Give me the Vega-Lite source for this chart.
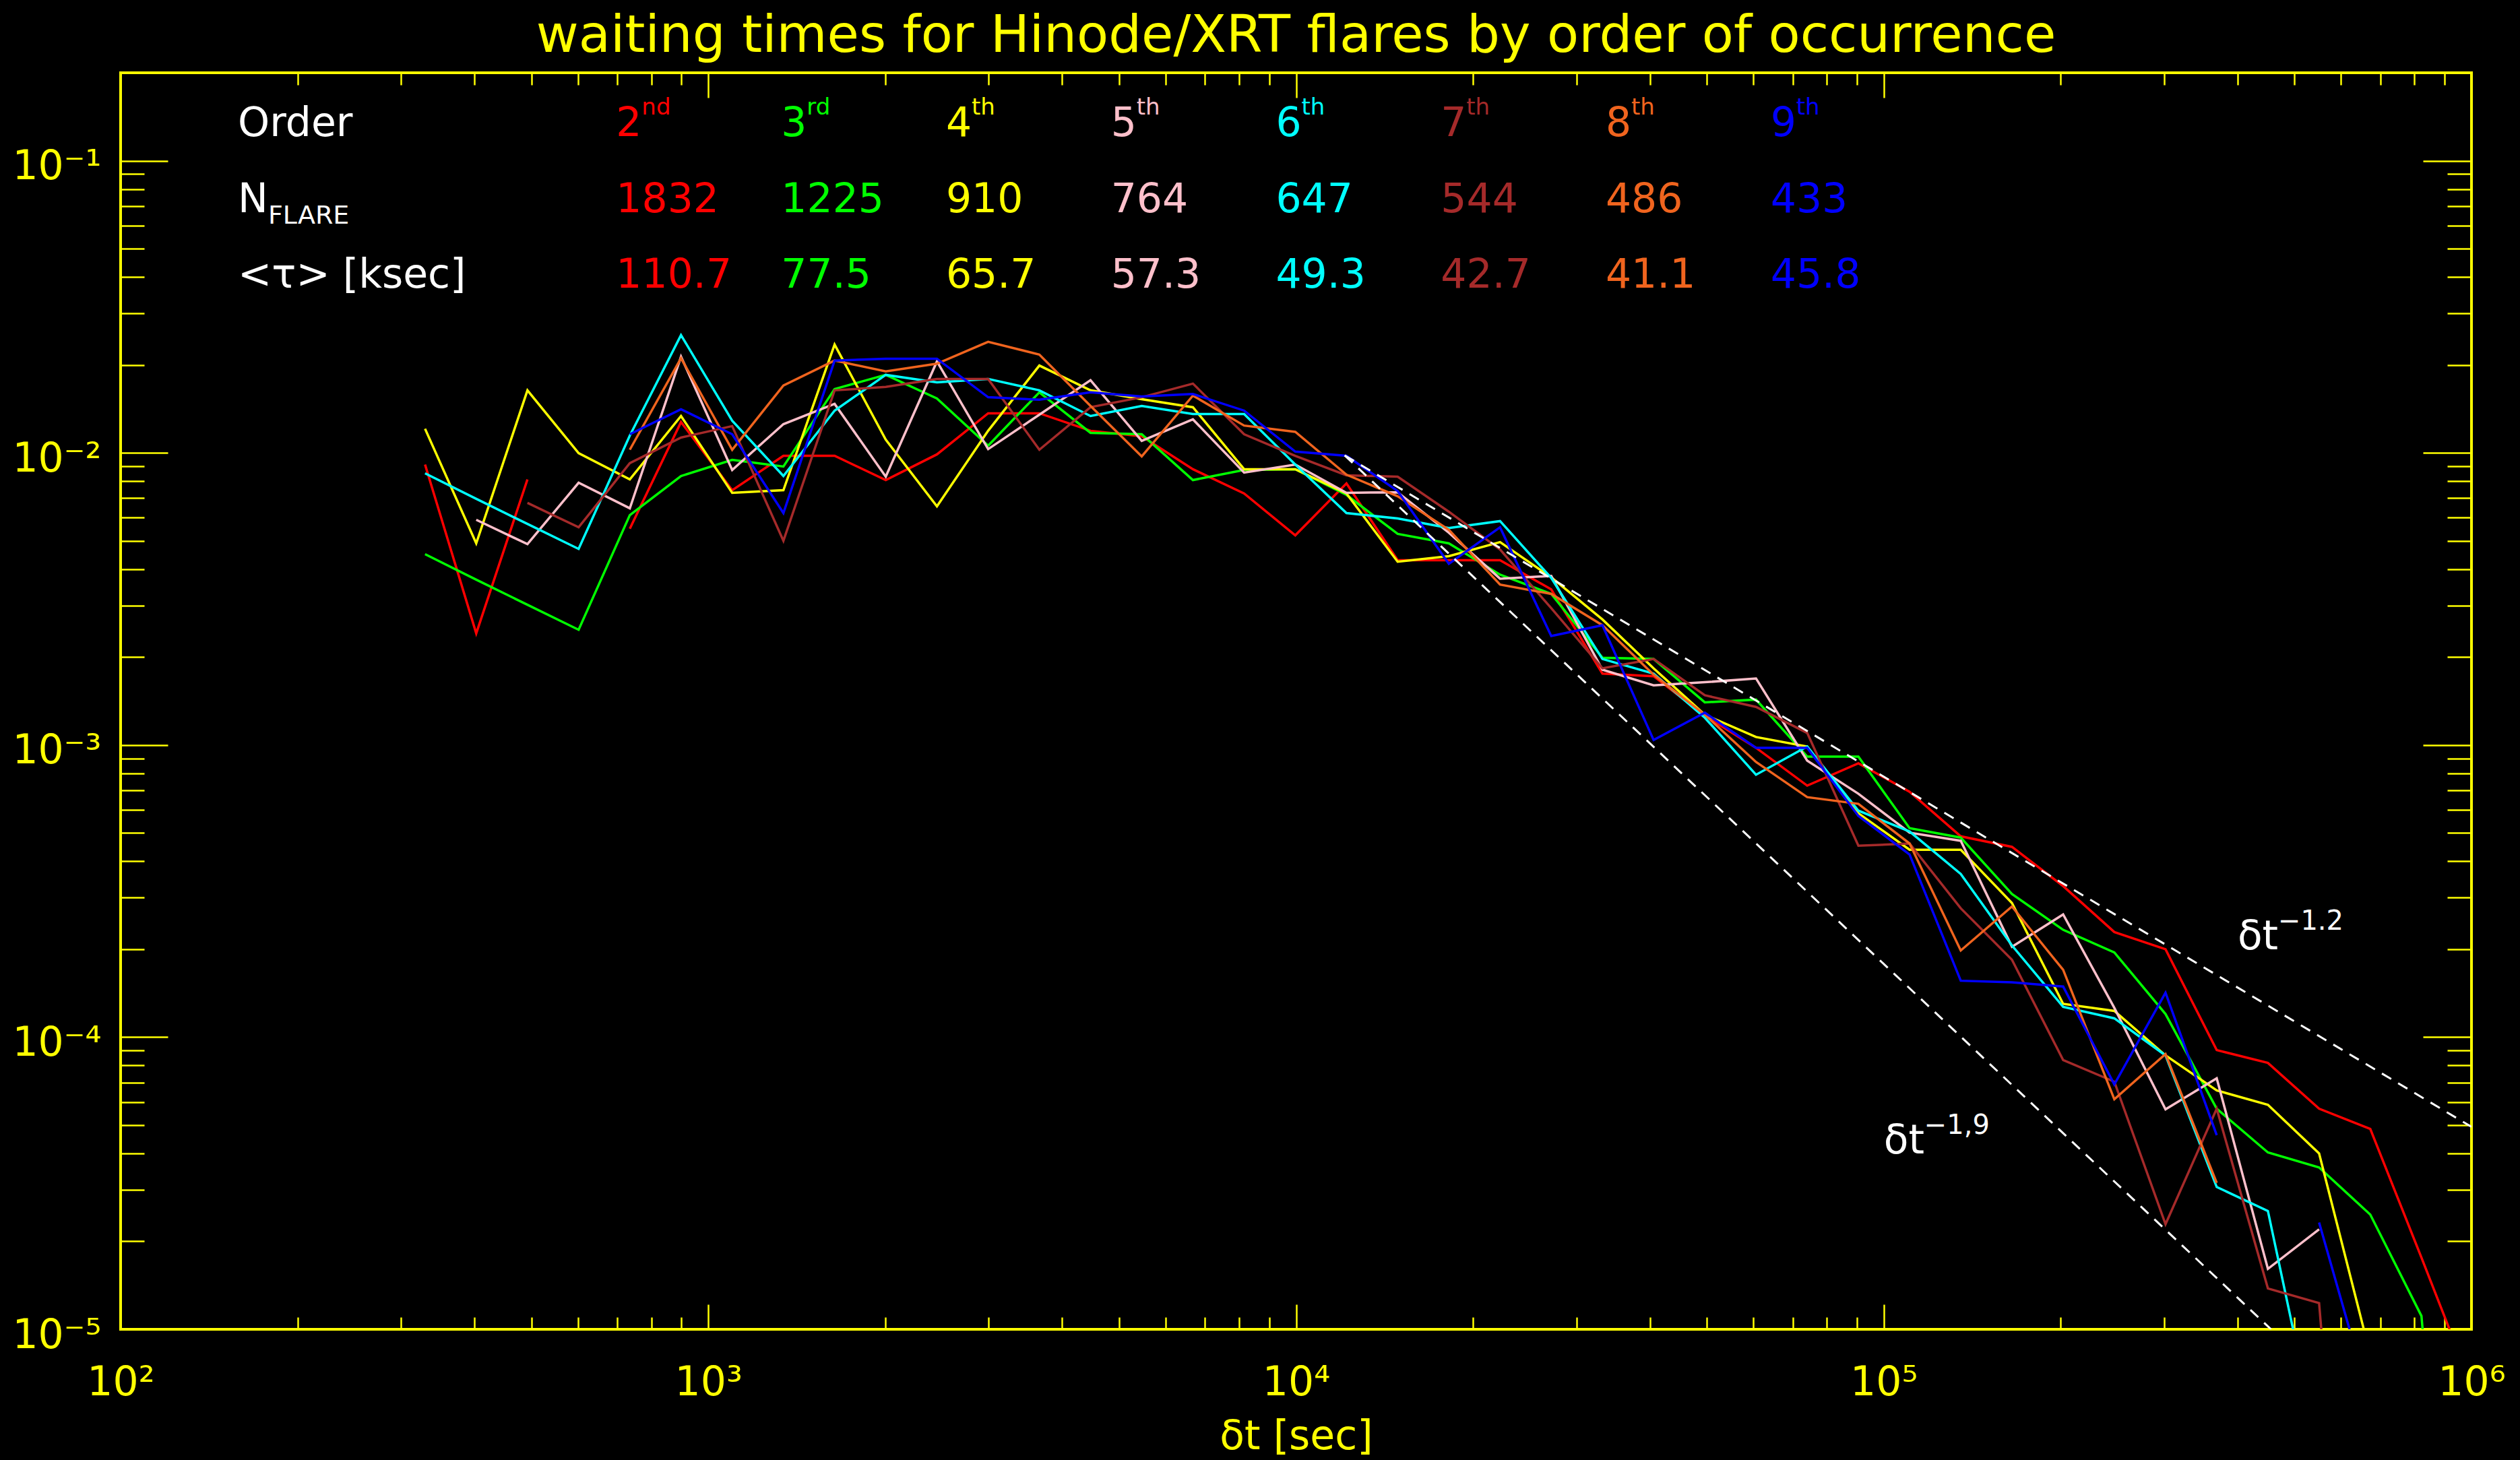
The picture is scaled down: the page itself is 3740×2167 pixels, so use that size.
{
  "$schema": "https://vega.github.io/schema/vega-lite/v6.json",
  "width": 3489,
  "height": 1865,
  "autosize": {"type": "none"},
  "padding": {"left": 179, "top": 108, "right": 72, "bottom": 194},
  "background": "#000000",
  "config": {
    "view": {"stroke": "#FFFF00", "strokeWidth": 4},
    "font": "DejaVu Sans",
    "axis": {"domain": false, "grid": false, "tickColor": "#FFFF00", "tickWidth": 2.5, "labelColor": "#FFFF00", "labelFont": "DejaVu Sans", "labelFontSize": 60, "titleColor": "#FFFF00", "titleFont": "DejaVu Sans", "titleFontSize": 60, "titleFontWeight": "normal", "labelFlush": false, "labelOverlap": false}
  },
  "title": {"text": "waiting times for Hinode/XRT flares by order of occurrence", "color": "#FFFF00", "font": "DejaVu Sans", "fontSize": 77, "fontWeight": "normal", "anchor": "middle", "frame": "group", "baseline": "alphabetic", "offset": -47},
  "datasets": {
    "curves": [
      {"order":"2nd","dt":329.6,"freq":0.00912},{"order":"2nd","dt":402.8,"freq":0.00241},{"order":"2nd","dt":492.3,"freq":0.00811},{"order":"2nd","dt":601.6,"freq":null},{"order":"2nd","dt":735.2,"freq":0.0055},{"order":"2nd","dt":898.5,"freq":0.01275},{"order":"2nd","dt":1098,"freq":0.00745},{"order":"2nd","dt":1342,"freq":0.00977},{"order":"2nd","dt":1640,"freq":0.00977},{"order":"2nd","dt":2004,"freq":0.00807},{"order":"2nd","dt":2449,"freq":0.00988},{"order":"2nd","dt":2993,"freq":0.01366},{"order":"2nd","dt":3658,"freq":0.01366},{"order":"2nd","dt":4470,"freq":0.0119},{"order":"2nd","dt":5463,"freq":0.0114},{"order":"2nd","dt":6676,"freq":0.00879},{"order":"2nd","dt":8159,"freq":0.00726},{"order":"2nd","dt":9970,"freq":0.00522},{"order":"2nd","dt":12184,"freq":0.00786},{"order":"2nd","dt":14890,"freq":0.00429},{"order":"2nd","dt":18197,"freq":0.00429},{"order":"2nd","dt":22239,"freq":0.00429},{"order":"2nd","dt":27178,"freq":0.00341},{"order":"2nd","dt":33213,"freq":0.001755},{"order":"2nd","dt":40589,"freq":0.00172},{"order":"2nd","dt":49603,"freq":0.00126},{"order":"2nd","dt":60620,"freq":0.000978},{"order":"2nd","dt":74082,"freq":0.000726},{"order":"2nd","dt":90536,"freq":0.000866},{"order":"2nd","dt":110642,"freq":0.000692},{"order":"2nd","dt":135207,"freq":0.000487},{"order":"2nd","dt":165234,"freq":0.000448},{"order":"2nd","dt":201931,"freq":0.000329},{"order":"2nd","dt":246774,"freq":0.000229},{"order":"2nd","dt":301579,"freq":0.0002},{"order":"2nd","dt":368556,"freq":0.0000903},{"order":"2nd","dt":450406,"freq":0.0000816},{"order":"2nd","dt":550430,"freq":0.0000569},{"order":"2nd","dt":672670,"freq":0.0000485},{"order":"2nd","dt":822050,"freq":0.0000176},{"order":"2nd","dt":1004600,"freq":0.00000627},
      {"order":"3rd","dt":329.6,"freq":0.0045},{"order":"3rd","dt":402.8,"freq":0.00368},{"order":"3rd","dt":492.3,"freq":0.00302},{"order":"3rd","dt":601.6,"freq":0.00248},{"order":"3rd","dt":735.2,"freq":0.00612},{"order":"3rd","dt":898.5,"freq":0.00833},{"order":"3rd","dt":1098,"freq":0.00946},{"order":"3rd","dt":1342,"freq":0.00898},{"order":"3rd","dt":1640,"freq":0.01654},{"order":"3rd","dt":2004,"freq":0.01849},{"order":"3rd","dt":2449,"freq":0.01535},{"order":"3rd","dt":2993,"freq":0.01058},{"order":"3rd","dt":3658,"freq":0.01611},{"order":"3rd","dt":4470,"freq":0.01171},{"order":"3rd","dt":5463,"freq":0.01158},{"order":"3rd","dt":6676,"freq":0.00807},{"order":"3rd","dt":8159,"freq":0.00874},{"order":"3rd","dt":9970,"freq":0.00879},{"order":"3rd","dt":12184,"freq":0.00718},{"order":"3rd","dt":14890,"freq":0.00528},{"order":"3rd","dt":18197,"freq":0.0049},{"order":"3rd","dt":22239,"freq":0.00383},{"order":"3rd","dt":27178,"freq":0.00329},{"order":"3rd","dt":33213,"freq":0.00199},{"order":"3rd","dt":40589,"freq":0.00197},{"order":"3rd","dt":49603,"freq":0.0014},{"order":"3rd","dt":60620,"freq":0.00143},{"order":"3rd","dt":74082,"freq":0.000913},{"order":"3rd","dt":90536,"freq":0.000913},{"order":"3rd","dt":110642,"freq":0.000519},{"order":"3rd","dt":135207,"freq":0.000482},{"order":"3rd","dt":165234,"freq":0.000309},{"order":"3rd","dt":201931,"freq":0.000233},{"order":"3rd","dt":246774,"freq":0.000195},{"order":"3rd","dt":301579,"freq":0.00012},{"order":"3rd","dt":368556,"freq":0.0000569},{"order":"3rd","dt":450406,"freq":0.0000403},{"order":"3rd","dt":550430,"freq":0.0000358},{"order":"3rd","dt":672670,"freq":0.0000247},{"order":"3rd","dt":822050,"freq":0.0000111},{"order":"3rd","dt":1004600,"freq":0.0000001},
      {"order":"4th","dt":329.6,"freq":0.01209},{"order":"4th","dt":402.8,"freq":0.0049},{"order":"4th","dt":492.3,"freq":0.01637},{"order":"4th","dt":601.6,"freq":0.00998},{"order":"4th","dt":735.2,"freq":0.00811},{"order":"4th","dt":898.5,"freq":0.01337},{"order":"4th","dt":1098,"freq":0.0073},{"order":"4th","dt":1342,"freq":0.00745},{"order":"4th","dt":1640,"freq":0.02349},{"order":"4th","dt":2004,"freq":0.0111},{"order":"4th","dt":2449,"freq":0.00656},{"order":"4th","dt":2993,"freq":0.0119},{"order":"4th","dt":3658,"freq":0.0199},{"order":"4th","dt":4470,"freq":0.01637},{"order":"4th","dt":5463,"freq":0.01527},{"order":"4th","dt":6676,"freq":0.01433},{"order":"4th","dt":8159,"freq":0.00879},{"order":"4th","dt":9970,"freq":0.00879},{"order":"4th","dt":12184,"freq":0.00726},{"order":"4th","dt":14890,"freq":0.00424},{"order":"4th","dt":18197,"freq":0.00443},{"order":"4th","dt":22239,"freq":0.00495},{"order":"4th","dt":27178,"freq":0.00375},{"order":"4th","dt":33213,"freq":0.00269},{"order":"4th","dt":40589,"freq":0.00183},{"order":"4th","dt":49603,"freq":0.00127},{"order":"4th","dt":60620,"freq":0.001065},{"order":"4th","dt":74082,"freq":0.000988},{"order":"4th","dt":90536,"freq":0.000584},{"order":"4th","dt":110642,"freq":0.000438},{"order":"4th","dt":135207,"freq":0.000438},{"order":"4th","dt":165234,"freq":0.000288},{"order":"4th","dt":201931,"freq":0.00013},{"order":"4th","dt":246774,"freq":0.000123},{"order":"4th","dt":301579,"freq":0.0000866},{"order":"4th","dt":368556,"freq":0.0000657},{"order":"4th","dt":450406,"freq":0.0000587},{"order":"4th","dt":550430,"freq":0.00004},{"order":"4th","dt":672670,"freq":0.00000818},
      {"order":"5th","dt":402.8,"freq":0.0059},{"order":"5th","dt":492.3,"freq":0.00487},{"order":"5th","dt":601.6,"freq":0.0079},{"order":"5th","dt":735.2,"freq":0.00646},{"order":"5th","dt":898.5,"freq":0.02135},{"order":"5th","dt":1098,"freq":0.00874},{"order":"5th","dt":1342,"freq":0.01254},{"order":"5th","dt":1640,"freq":0.01471},{"order":"5th","dt":2004,"freq":0.00829},{"order":"5th","dt":2449,"freq":0.02056},{"order":"5th","dt":2993,"freq":0.0103},{"order":"5th","dt":3658,"freq":0.01351},{"order":"5th","dt":4470,"freq":0.01772},{"order":"5th","dt":5463,"freq":0.01099},{"order":"5th","dt":6676,"freq":0.01302},{"order":"5th","dt":8159,"freq":0.00856},{"order":"5th","dt":9970,"freq":0.00912},{"order":"5th","dt":12184,"freq":0.0073},{"order":"5th","dt":14890,"freq":0.00733},{"order":"5th","dt":18197,"freq":0.00533},{"order":"5th","dt":22239,"freq":0.00371},{"order":"5th","dt":27178,"freq":0.00379},{"order":"5th","dt":33213,"freq":0.00181},{"order":"5th","dt":40589,"freq":0.0016},{"order":"5th","dt":49603,"freq":0.00164},{"order":"5th","dt":60620,"freq":0.00169},{"order":"5th","dt":74082,"freq":0.000884},{"order":"5th","dt":90536,"freq":0.000681},{"order":"5th","dt":110642,"freq":0.000501},{"order":"5th","dt":135207,"freq":0.00047},{"order":"5th","dt":165234,"freq":0.000204},{"order":"5th","dt":201931,"freq":0.000263},{"order":"5th","dt":246774,"freq":0.000126},{"order":"5th","dt":301579,"freq":0.0000566},{"order":"5th","dt":368556,"freq":0.0000723},{"order":"5th","dt":450406,"freq":0.0000161},{"order":"5th","dt":550430,"freq":0.000022},
      {"order":"6th","dt":329.6,"freq":0.00851},{"order":"6th","dt":402.8,"freq":0.00696},{"order":"6th","dt":492.3,"freq":0.00571},{"order":"6th","dt":601.6,"freq":0.00469},{"order":"6th","dt":735.2,"freq":0.01146},{"order":"6th","dt":898.5,"freq":0.0253},{"order":"6th","dt":1098,"freq":0.01288},{"order":"6th","dt":1342,"freq":0.00833},{"order":"6th","dt":1640,"freq":0.01395},{"order":"6th","dt":2004,"freq":0.01849},{"order":"6th","dt":2449,"freq":0.01744},{"order":"6th","dt":2993,"freq":0.01791},{"order":"6th","dt":3658,"freq":0.01637},{"order":"6th","dt":4470,"freq":0.01337},{"order":"6th","dt":5463,"freq":0.01448},{"order":"6th","dt":6676,"freq":0.01359},{"order":"6th","dt":8159,"freq":0.01359},{"order":"6th","dt":9970,"freq":0.00912},{"order":"6th","dt":12184,"freq":0.00622},{"order":"6th","dt":14890,"freq":0.00596},{"order":"6th","dt":18197,"freq":0.00553},{"order":"6th","dt":22239,"freq":0.00584},{"order":"6th","dt":27178,"freq":0.00373},{"order":"6th","dt":33213,"freq":0.00197},{"order":"6th","dt":40589,"freq":0.001755},{"order":"6th","dt":49603,"freq":0.00124},{"order":"6th","dt":60620,"freq":0.000791},{"order":"6th","dt":74082,"freq":0.000988},{"order":"6th","dt":90536,"freq":0.000596},{"order":"6th","dt":110642,"freq":0.000506},{"order":"6th","dt":135207,"freq":0.000362},{"order":"6th","dt":165234,"freq":0.000206},{"order":"6th","dt":201931,"freq":0.000127},{"order":"6th","dt":246774,"freq":0.000116},{"order":"6th","dt":301579,"freq":0.0000866},{"order":"6th","dt":368556,"freq":0.0000307},{"order":"6th","dt":450406,"freq":0.0000254},{"order":"6th","dt":550430,"freq":0.00000382},
      {"order":"7th","dt":492.3,"freq":0.00674},{"order":"7th","dt":601.6,"freq":0.00556},{"order":"7th","dt":735.2,"freq":0.00922},{"order":"7th","dt":898.5,"freq":0.01128},{"order":"7th","dt":1098,"freq":0.01235},{"order":"7th","dt":1342,"freq":0.005},{"order":"7th","dt":1640,"freq":0.01637},{"order":"7th","dt":2004,"freq":0.01681},{"order":"7th","dt":2449,"freq":0.01791},{"order":"7th","dt":2993,"freq":0.01791},{"order":"7th","dt":3658,"freq":0.01025},{"order":"7th","dt":4470,"freq":0.01433},{"order":"7th","dt":5463,"freq":0.0155},{"order":"7th","dt":6676,"freq":0.01726},{"order":"7th","dt":8159,"freq":0.01158},{"order":"7th","dt":9970,"freq":0.00977},{"order":"7th","dt":12184,"freq":0.00838},{"order":"7th","dt":14890,"freq":0.00829},{"order":"7th","dt":18197,"freq":0.00629},{"order":"7th","dt":22239,"freq":0.00467},{"order":"7th","dt":27178,"freq":0.00294},{"order":"7th","dt":33213,"freq":0.00183},{"order":"7th","dt":40589,"freq":0.00197},{"order":"7th","dt":49603,"freq":0.00148},{"order":"7th","dt":60620,"freq":0.00135},{"order":"7th","dt":74082,"freq":0.0011},{"order":"7th","dt":90536,"freq":0.000452},{"order":"7th","dt":110642,"freq":0.00046},{"order":"7th","dt":135207,"freq":0.000276},{"order":"7th","dt":165234,"freq":0.000184},{"order":"7th","dt":201931,"freq":0.0000835},{"order":"7th","dt":246774,"freq":0.0000704},{"order":"7th","dt":301579,"freq":0.0000229},{"order":"7th","dt":368556,"freq":0.0000569},{"order":"7th","dt":450406,"freq":0.0000138},{"order":"7th","dt":550430,"freq":0.0000123},{"order":"7th","dt":672670,"freq":0.0000001},
      {"order":"8th","dt":735.2,"freq":0.01025},{"order":"8th","dt":898.5,"freq":0.0211},{"order":"8th","dt":1098,"freq":0.01025},{"order":"8th","dt":1342,"freq":0.017},{"order":"8th","dt":1640,"freq":0.0207},{"order":"8th","dt":2004,"freq":0.019},{"order":"8th","dt":2449,"freq":0.0202},{"order":"8th","dt":2993,"freq":0.024},{"order":"8th","dt":3658,"freq":0.0217},{"order":"8th","dt":4470,"freq":0.01448},{"order":"8th","dt":5463,"freq":0.00972},{"order":"8th","dt":6676,"freq":0.0157},{"order":"8th","dt":8159,"freq":0.0124},{"order":"8th","dt":9970,"freq":0.0118},{"order":"8th","dt":12184,"freq":0.00842},{"order":"8th","dt":14890,"freq":0.0071},{"order":"8th","dt":18197,"freq":0.00545},{"order":"8th","dt":22239,"freq":0.00354},{"order":"8th","dt":27178,"freq":0.00329},{"order":"8th","dt":33213,"freq":0.00257},{"order":"8th","dt":40589,"freq":0.00174},{"order":"8th","dt":49603,"freq":0.00127},{"order":"8th","dt":60620,"freq":0.000875},{"order":"8th","dt":74082,"freq":0.000663},{"order":"8th","dt":90536,"freq":0.000629},{"order":"8th","dt":110642,"freq":0.00046},{"order":"8th","dt":135207,"freq":0.000198},{"order":"8th","dt":165234,"freq":0.00028},{"order":"8th","dt":201931,"freq":0.00017},{"order":"8th","dt":246774,"freq":0.0000613},{"order":"8th","dt":301579,"freq":0.0000875},{"order":"8th","dt":368556,"freq":0.0000317},
      {"order":"9th","dt":735.2,"freq":0.01158},{"order":"9th","dt":898.5,"freq":0.0141},{"order":"9th","dt":1098,"freq":0.01158},{"order":"9th","dt":1342,"freq":0.00622},{"order":"9th","dt":1640,"freq":0.0207},{"order":"9th","dt":2004,"freq":0.021},{"order":"9th","dt":2449,"freq":0.021},{"order":"9th","dt":2993,"freq":0.0155},{"order":"9th","dt":3658,"freq":0.0152},{"order":"9th","dt":4470,"freq":0.01611},{"order":"9th","dt":5463,"freq":0.0156},{"order":"9th","dt":6676,"freq":0.0159},{"order":"9th","dt":8159,"freq":0.01395},{"order":"9th","dt":9970,"freq":0.0101},{"order":"9th","dt":12184,"freq":0.00977},{"order":"9th","dt":14890,"freq":0.0074},{"order":"9th","dt":18197,"freq":0.00417},{"order":"9th","dt":22239,"freq":0.00556},{"order":"9th","dt":27178,"freq":0.00236},{"order":"9th","dt":33213,"freq":0.00257},{"order":"9th","dt":40589,"freq":0.00104},{"order":"9th","dt":49603,"freq":0.00129},{"order":"9th","dt":60620,"freq":0.000978},{"order":"9th","dt":74082,"freq":0.000978},{"order":"9th","dt":90536,"freq":0.000572},{"order":"9th","dt":110642,"freq":0.000422},{"order":"9th","dt":135207,"freq":0.000156},{"order":"9th","dt":165234,"freq":0.000154},{"order":"9th","dt":201931,"freq":0.000149},{"order":"9th","dt":246774,"freq":0.0000689},{"order":"9th","dt":301579,"freq":0.000142},{"order":"9th","dt":368556,"freq":0.0000462},{"order":"9th","dt":450406,"freq":null},{"order":"9th","dt":550430,"freq":0.0000232},{"order":"9th","dt":672670,"freq":0.00000564}
    ],
    "powerlaws": [
      {"law":"-1.2","dt":12100,"freq":0.0098},{"law":"-1.2","dt":1000000,"freq":0.0000493},
      {"law":"-1.9","dt":12100,"freq":0.0098},{"law":"-1.9","dt":456000,"freq":0.00001}
    ],
    "table": [
      {"order":"2nd","num":"2","sup":"nd","nflare":"1832","tau":110.7,"dt":696.7},
      {"order":"3rd","num":"3","sup":"rd","nflare":"1225","tau":77.5,"dt":1330},
      {"order":"4th","num":"4","sup":"th","nflare":"910","tau":65.7,"dt":2537},
      {"order":"5th","num":"5","sup":"th","nflare":"764","tau":57.3,"dt":4841},
      {"order":"6th","num":"6","sup":"th","nflare":"647","tau":49.3,"dt":9236},
      {"order":"7th","num":"7","sup":"th","nflare":"544","tau":42.7,"dt":17630},
      {"order":"8th","num":"8","sup":"th","nflare":"486","tau":41.1,"dt":33630},
      {"order":"9th","num":"9","sup":"th","nflare":"433","tau":45.8,"dt":64180}
    ],
    "rowlabels": [
      {"label":"Order","f":0.1214},
      {"label":"N","f":0.06675},
      {"label":"<τ> [ksec]","f":0.03679}
    ],
    "sublabels": [
      {"label":"FLARE","f":0.06675}
    ],
    "lawlabels": [
      {"base":"δt","exp":"−1.2","dt":400000,"freq":0.0002},
      {"base":"δt","exp":"−1,9","dt":100000,"freq":0.00004}
    ]
  },
  "resolve": {"axis": {"x": "independent", "y": "independent"}},
  "layer": [
    {
      "data": {"name": "curves"},
      "mark": {"type": "line", "strokeWidth": 3.5, "clip": true, "invalid": "break-paths-filter-domains"},
      "encoding": {
        "x": {"field": "dt", "type": "quantitative", "scale": {"type": "log", "domain": [100, 1000000], "nice": false},
          "axis": {"orient": "bottom", "title": "δt [sec]", "titleY": 177, "titleBaseline": "alphabetic",
            "values": [100,200,300,400,500,600,700,800,900,1000,2000,3000,4000,5000,6000,7000,8000,9000,10000,20000,30000,40000,50000,60000,70000,80000,90000,100000,200000,300000,400000,500000,600000,700000,800000,900000,1000000],
            "tickSize": {"condition": {"test": "abs(log(datum.value)/LN10 - round(log(datum.value)/LN10)) < 0.001", "value": -37}, "value": -18},
            "labelExpr": "abs(log(datum.value)/LN10 - round(log(datum.value)/LN10)) < 0.001 ? '10' + ['⁰','¹','²','³','⁴','⁵','⁶'][round(log(datum.value)/LN10)] : ''",
            "labelPadding": 134, "labelBaseline": "alphabetic", "labelAlign": "center"}},
        "y": {"field": "freq", "type": "quantitative", "scale": {"type": "log", "domain": [0.00001, 0.2], "nice": false},
          "axis": {"orient": "left", "title": null,
            "values": [0.00001,0.00002,0.00003,0.00004,0.00005,0.00006,0.00007,0.00008,0.00009,0.0001,0.0002,0.0003,0.0004,0.0005,0.0006,0.0007,0.0008,0.0009,0.001,0.002,0.003,0.004,0.005,0.006,0.007,0.008,0.009,0.01,0.02,0.03,0.04,0.05,0.06,0.07,0.08,0.09,0.1],
            "tickSize": {"condition": {"test": "abs(log(datum.value)/LN10 - round(log(datum.value)/LN10)) < 0.001", "value": -70}, "value": -35},
            "labelExpr": "abs(log(datum.value)/LN10 - round(log(datum.value)/LN10)) < 0.001 ? '10⁻' + ['⁰','¹','²','³','⁴','⁵'][-round(log(datum.value)/LN10)] : ''",
            "labelPadding": 99, "labelBaseline": "alphabetic", "labelAlign": "right", "labelOffset": 27}},
        "color": {"field": "order", "type": "nominal", "scale": {"domain": ["2nd","3rd","4th","5th","6th","7th","8th","9th"], "range": ["#FF0000","#00FF00","#FFFF00","#FFC0CB","#00FFFF","#A52A2A","#F0641E","#0000FF"]}, "legend": null}
      }
    },
    {
      "data": {"name": "powerlaws"},
      "mark": {"type": "line", "stroke": "#FFFFFF", "strokeWidth": 3, "strokeDash": [16, 12], "clip": true},
      "encoding": {
        "x": {"field": "dt", "type": "quantitative", "scale": {"type": "log", "domain": [100, 1000000], "nice": false},
          "axis": {"orient": "top", "title": null, "labels": false,
            "values": [100,200,300,400,500,600,700,800,900,1000,2000,3000,4000,5000,6000,7000,8000,9000,10000,20000,30000,40000,50000,60000,70000,80000,90000,100000,200000,300000,400000,500000,600000,700000,800000,900000,1000000],
            "tickSize": {"condition": {"test": "abs(log(datum.value)/LN10 - round(log(datum.value)/LN10)) < 0.001", "value": -37}, "value": -18}}},
        "y": {"field": "freq", "type": "quantitative", "scale": {"type": "log", "domain": [0.00001, 0.2], "nice": false},
          "axis": {"orient": "right", "title": null, "labels": false,
            "values": [0.00001,0.00002,0.00003,0.00004,0.00005,0.00006,0.00007,0.00008,0.00009,0.0001,0.0002,0.0003,0.0004,0.0005,0.0006,0.0007,0.0008,0.0009,0.001,0.002,0.003,0.004,0.005,0.006,0.007,0.008,0.009,0.01,0.02,0.03,0.04,0.05,0.06,0.07,0.08,0.09,0.1],
            "tickSize": {"condition": {"test": "abs(log(datum.value)/LN10 - round(log(datum.value)/LN10)) < 0.001", "value": -72}, "value": -36}}},
        "detail": {"field": "law", "type": "nominal"}
      }
    },
    {
      "data": {"name": "table"},
      "mark": {"type": "text", "align": "left", "baseline": "alphabetic", "fontSize": 60, "font": "DejaVu Sans"},
      "encoding": {
        "x": {"field": "dt", "type": "quantitative", "scale": {"type": "log", "domain": [100, 1000000], "nice": false}, "axis": null},
        "y": {"datum": 0.1214, "type": "quantitative", "scale": {"type": "log", "domain": [0.00001, 0.2], "nice": false}, "axis": null},
        "text": {"field": "num", "type": "nominal"},
        "color": {"field": "order", "type": "nominal", "scale": {"domain": ["2nd","3rd","4th","5th","6th","7th","8th","9th"], "range": ["#FF0000","#00FF00","#FFFF00","#FFC0CB","#00FFFF","#A52A2A","#F0641E","#0000FF"]}, "legend": null}
      }
    },
    {
      "data": {"name": "table"},
      "mark": {"type": "text", "align": "left", "baseline": "alphabetic", "fontSize": 34, "font": "DejaVu Sans", "dx": 38, "dy": -32},
      "encoding": {
        "x": {"field": "dt", "type": "quantitative", "scale": {"type": "log", "domain": [100, 1000000], "nice": false}, "axis": null},
        "y": {"datum": 0.1214, "type": "quantitative", "scale": {"type": "log", "domain": [0.00001, 0.2], "nice": false}, "axis": null},
        "text": {"field": "sup", "type": "nominal"},
        "color": {"field": "order", "type": "nominal", "scale": {"domain": ["2nd","3rd","4th","5th","6th","7th","8th","9th"], "range": ["#FF0000","#00FF00","#FFFF00","#FFC0CB","#00FFFF","#A52A2A","#F0641E","#0000FF"]}, "legend": null}
      }
    },
    {
      "data": {"name": "table"},
      "mark": {"type": "text", "align": "left", "baseline": "alphabetic", "fontSize": 60, "font": "DejaVu Sans"},
      "encoding": {
        "x": {"field": "dt", "type": "quantitative", "scale": {"type": "log", "domain": [100, 1000000], "nice": false}, "axis": null},
        "y": {"datum": 0.06675, "type": "quantitative", "scale": {"type": "log", "domain": [0.00001, 0.2], "nice": false}, "axis": null},
        "text": {"field": "nflare", "type": "nominal"},
        "color": {"field": "order", "type": "nominal", "scale": {"domain": ["2nd","3rd","4th","5th","6th","7th","8th","9th"], "range": ["#FF0000","#00FF00","#FFFF00","#FFC0CB","#00FFFF","#A52A2A","#F0641E","#0000FF"]}, "legend": null}
      }
    },
    {
      "data": {"name": "table"},
      "mark": {"type": "text", "align": "left", "baseline": "alphabetic", "fontSize": 60, "font": "DejaVu Sans"},
      "encoding": {
        "x": {"field": "dt", "type": "quantitative", "scale": {"type": "log", "domain": [100, 1000000], "nice": false}, "axis": null},
        "y": {"datum": 0.03679, "type": "quantitative", "scale": {"type": "log", "domain": [0.00001, 0.2], "nice": false}, "axis": null},
        "text": {"field": "tau", "type": "quantitative", "format": ".1f"},
        "color": {"field": "order", "type": "nominal", "scale": {"domain": ["2nd","3rd","4th","5th","6th","7th","8th","9th"], "range": ["#FF0000","#00FF00","#FFFF00","#FFC0CB","#00FFFF","#A52A2A","#F0641E","#0000FF"]}, "legend": null}
      }
    },
    {
      "data": {"name": "rowlabels"},
      "mark": {"type": "text", "align": "left", "baseline": "alphabetic", "fontSize": 60, "font": "DejaVu Sans", "color": "#FFFFFF"},
      "encoding": {
        "x": {"datum": 158.3, "type": "quantitative", "scale": {"type": "log", "domain": [100, 1000000], "nice": false}, "axis": null},
        "y": {"field": "f", "type": "quantitative", "scale": {"type": "log", "domain": [0.00001, 0.2], "nice": false}, "axis": null},
        "text": {"field": "label", "type": "nominal"}
      }
    },
    {
      "data": {"name": "sublabels"},
      "mark": {"type": "text", "align": "left", "baseline": "alphabetic", "fontSize": 38, "font": "DejaVu Sans", "color": "#FFFFFF", "dx": 45, "dy": 17},
      "encoding": {
        "x": {"datum": 158.3, "type": "quantitative", "scale": {"type": "log", "domain": [100, 1000000], "nice": false}, "axis": null},
        "y": {"field": "f", "type": "quantitative", "scale": {"type": "log", "domain": [0.00001, 0.2], "nice": false}, "axis": null},
        "text": {"field": "label", "type": "nominal"}
      }
    },
    {
      "data": {"name": "lawlabels"},
      "mark": {"type": "text", "align": "left", "baseline": "alphabetic", "fontSize": 60, "font": "DejaVu Sans", "color": "#FFFFFF"},
      "encoding": {
        "x": {"field": "dt", "type": "quantitative", "scale": {"type": "log", "domain": [100, 1000000], "nice": false}, "axis": null},
        "y": {"field": "freq", "type": "quantitative", "scale": {"type": "log", "domain": [0.00001, 0.2], "nice": false}, "axis": null},
        "text": {"field": "base", "type": "nominal"}
      }
    },
    {
      "data": {"name": "lawlabels"},
      "mark": {"type": "text", "align": "left", "baseline": "alphabetic", "fontSize": 40, "font": "DejaVu Sans", "color": "#FFFFFF", "dx": 60, "dy": -29},
      "encoding": {
        "x": {"field": "dt", "type": "quantitative", "scale": {"type": "log", "domain": [100, 1000000], "nice": false}, "axis": null},
        "y": {"field": "freq", "type": "quantitative", "scale": {"type": "log", "domain": [0.00001, 0.2], "nice": false}, "axis": null},
        "text": {"field": "exp", "type": "nominal"}
      }
    }
  ]
}
